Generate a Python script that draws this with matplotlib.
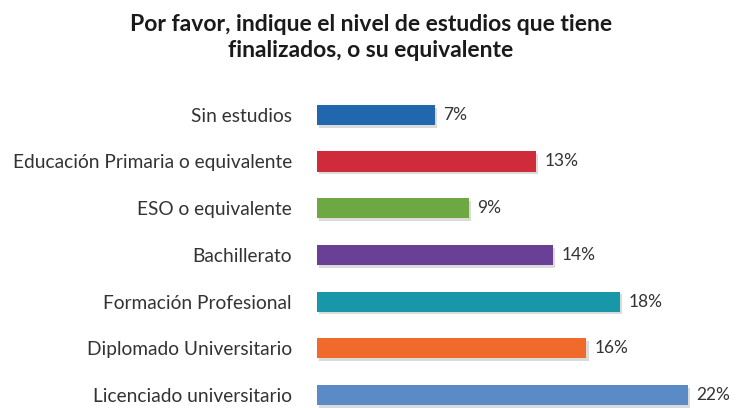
import matplotlib.pyplot as plt
import matplotlib.patheffects as pe

plt.rcParams['font.family'] = ['Lato', 'DejaVu Sans']

# niveles de estudios y porcentajes
niveles = [
    "Sin estudios",
    "Educación Primaria o equivalente",
    "ESO o equivalente",
    "Bachillerato",
    "Formación Profesional",
    "Diplomado Universitario",
    "Licenciado universitario",
]
porcentajes = [7, 13, 9, 14, 18, 16, 22]
colores = ["#2167ad", "#cf2b3b", "#6ea843", "#6a3f96", "#1897a8", "#ef6a2b", "#5b8bc6"]

fig = plt.figure(figsize=(7.37, 4.08), dpi=100)
ax = fig.add_axes([0.43, 0.0, 0.56, 0.78])

pos = list(range(len(niveles)))
barras = ax.barh(pos, porcentajes, height=0.43, color=colores, zorder=2)
for b in barras:
    b.set_path_effects([pe.SimplePatchShadow(offset=(1.5, -2), shadow_rgbFace="#999999", alpha=0.35),
                        pe.Normal()])

for p, v in zip(pos, porcentajes):
    ax.text(v + 0.5, p, f"{v}%", va="center", ha="left", fontsize=12.5, color="#333333")

ax.set_xlim(0, 24.5)
ax.set_ylim(6.28, -0.536)
ax.set_yticks(pos)
ax.set_yticklabels(niveles, fontsize=13.8, color="#333333")
ax.tick_params(axis="y", length=0, pad=18)
ax.set_xticks([])
for s in ax.spines.values():
    s.set_visible(False)

fig.text(0.503, 0.965, "Por favor, indique el nivel de estudios que tiene\nfinalizados, o su equivalente",
         ha="center", va="top", fontsize=16.5, fontweight="bold", color="#1a1a1a", linespacing=1.3)

fig.savefig("out.png", dpi=100)
